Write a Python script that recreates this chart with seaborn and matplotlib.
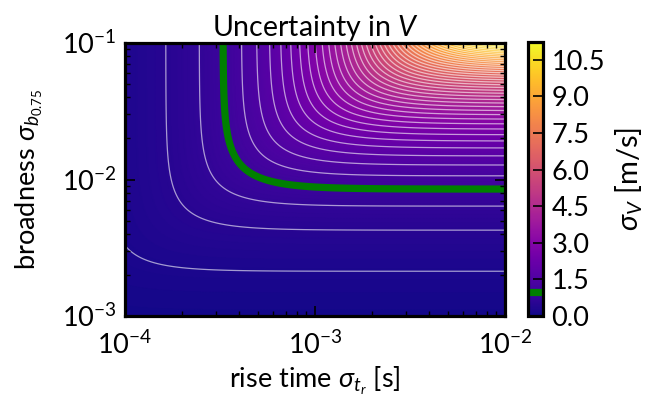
import numpy as np
import matplotlib
matplotlib.use("Agg")
import matplotlib.pyplot as plt
import seaborn as sns

# ---- values ----
rise_time_limits = [1e-4, 1e-2]          # sigma_t_r axis range [s]
broadness_limits = [1e-3, 1e-1]          # sigma_b_0.75 axis range
# sigma_V grows ~linearly with broadness at large rise time (sigma_V=1 at ~8.5e-3)
sigma_v_per_broadness = 117.5            # [m/s per unit broadness]
# and ~linearly with rise time at large broadness (sigma_V=1 at ~3.28e-4 s)
sigma_v_per_rise_time = 3050.0           # [m/s per s]
combination_power = 2.3                  # how the two limits combine (corner sharpness)
contour_step = 0.25                      # white contour spacing [m/s]
highlight_level = [1.0]                  # green contour [m/s]
colorbar_ticks = [0.0, 1.5, 3.0, 4.5, 6.0, 7.5, 9.0, 10.5]
x_ticks = [1e-4, 1e-3, 1e-2]
y_ticks = [1e-3, 1e-2, 1e-1]

sns.set_style("ticks")
FS = 19.5
plt.rcParams["font.family"] = ["Lato", "DejaVu Sans"]
plt.rcParams["mathtext.fontset"] = "custom"
plt.rcParams["mathtext.rm"] = "Lato"
plt.rcParams["mathtext.it"] = "Lato:italic"
plt.rcParams["font.size"] = FS
for k in ["text.color", "axes.labelcolor", "xtick.color", "ytick.color", "axes.edgecolor"]:
    plt.rcParams[k] = "black"
plt.rcParams["axes.axisbelow"] = False

# field
rt = np.logspace(np.log10(rise_time_limits[0]), np.log10(rise_time_limits[1]), 500)
br = np.logspace(np.log10(broadness_limits[0]), np.log10(broadness_limits[1]), 500)
RT, BR = np.meshgrid(rt, br)
p = combination_power
SV = ((sigma_v_per_broadness * BR) ** (-p) + (sigma_v_per_rise_time * RT) ** (-p)) ** (-1.0 / p)

fig = plt.figure(figsize=(6.45, 3.96), dpi=100)
ax = fig.add_axes([125 / 645, 1 - 316 / 396, 380 / 645, 273 / 396])
cax = fig.add_axes([528 / 645, 1 - 316 / 396, 15 / 645, 274 / 396])

cmap = sns.color_palette("plasma", as_cmap=True)
mesh = ax.pcolormesh(RT, BR, SV, cmap=cmap, vmin=0, vmax=SV.max(),
                     shading="gouraud", rasterized=True)
white_levels = np.arange(contour_step, SV.max(), contour_step)
white_levels = white_levels[np.abs(white_levels - highlight_level[0]) > 1e-9]
ax.contour(RT, BR, SV, levels=white_levels, colors="white",
           linewidths=0.9, alpha=0.6)
green = ax.contour(RT, BR, SV, levels=highlight_level, colors="green",
                   linewidths=5.2)

ax.set_xscale("log")
ax.set_yscale("log")
ax.set_xlim(rise_time_limits)
ax.set_ylim(broadness_limits)
ax.set_xticks(x_ticks)
ax.set_yticks(y_ticks)
ax.set_axisbelow(False)
ax.tick_params(which="both", direction="in", top=True, right=True, color="black")
ax.tick_params(which="major", length=7, width=1.2, labelsize=FS)
ax.tick_params(axis="x", which="major", pad=11)
ax.tick_params(axis="y", which="major", pad=6)
ax.tick_params(which="minor", length=3.3, width=1.0)
for s in ax.spines.values():
    s.set_linewidth(2.3)
    s.set_color("black")

ax.set_title("Uncertainty in $V$", fontsize=20.5, pad=4)
ax.set_xlabel(r"rise time $\sigma_{t_r}$ [s]", fontsize=FS, labelpad=4)
ax.set_ylabel(r"broadness $\sigma_{b_{0.75}}$", fontsize=FS, labelpad=12)

cbar = fig.colorbar(mesh, cax=cax, ticks=colorbar_ticks)
cbar.add_lines(green)
cbar.ax.set_axisbelow(False)
cbar.ax.yaxis.set_major_formatter(matplotlib.ticker.FormatStrFormatter("%.1f"))
cbar.ax.tick_params(direction="in", length=7, width=1.2, color="black", pad=6,
                    labelsize=FS)
cbar.outline.set_linewidth(2.3)
cbar.outline.set_edgecolor("black")
cbar.set_label(r"$\sigma_V$ [m/s]", fontsize=21, labelpad=6)

fig.savefig("out.png", dpi=100)
